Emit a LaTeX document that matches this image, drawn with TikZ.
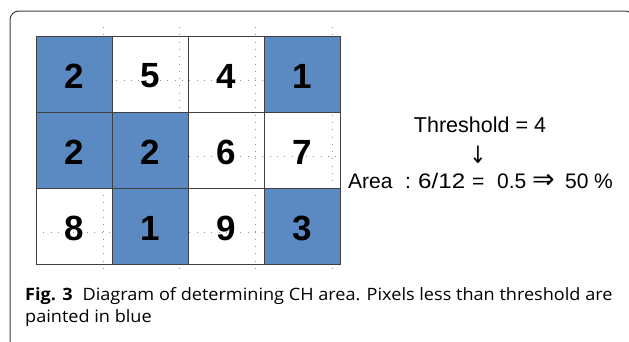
\documentclass[tikz,border=0pt]{standalone}
\usepackage{fontspec}
\setmainfont{Liberation Sans}
\newfontfamily\capfont{Open Sans}
\newfontfamily\symfont{DejaVu Sans}
\definecolor{cellblue}{HTML}{4F81BD}
\definecolor{framegray}{HTML}{404040}
\tikzset{
  cellbox/.style={draw=framegray, line width=0.9pt},
  gridnum/.style={inner sep=0pt, anchor=center, font=\fontsize{35}{40}\selectfont\bfseries},
  dotline/.style={draw=gray!85, line width=0.9pt, dash pattern=on 0.9pt off 6.4pt},
  rtext/.style={inner sep=0pt, anchor=base west, font=\fontsize{21}{25}\selectfont},
  captext/.style={inner sep=0pt, anchor=base west, xscale=1.065, font=\capfont\fontsize{17}{20}\selectfont},
}
\begin{document}
\begin{tikzpicture}[x=1pt, y=-1pt]
\useasboundingbox (0,0) rectangle (629,341);
\clip (0,0) rectangle (629,341);
\fill[white] (0,0) rectangle (629,341);
% frame
\draw[framegray, line width=1pt, rounded corners=9pt] (10,360) -- (10,11) -- (634,11) -- (634,360);
% dotted helper lines
\foreach \x in {103,179,255,332} \draw[dotline] (\x,27) -- (\x,273);
\foreach \y in {80,156,232} \draw[dotline] (36,\y) -- (340,\y);
% cells
\foreach \v/\b [count=\k from 0] in {2/1,5/0,4/0,1/1,2/1,2/1,6/0,7/0,8/0,1/1,9/0,3/1}{
  \pgfmathtruncatemacro{\c}{mod(\k,4)}
  \pgfmathtruncatemacro{\r}{div(\k,4)}
  \pgfmathsetmacro{\xa}{36+76*\c}
  \pgfmathsetmacro{\ya}{36+76*\r}
  \ifnum\b=1
    \fill[cellblue, opacity=0.93] (\xa,\ya) rectangle ++(76,76);
  \fi
  \draw[cellbox] (\xa,\ya) rectangle ++(76,76);
  \node[gridnum] (n\k) at (\xa+38,\ya+40) {\v};
}
% right text
\node[inner sep=0pt, anchor=base, font=\fontsize{21.5}{25}\selectfont] (thr) at (480,132) {Threshold = 4};
\node[inner sep=0pt, anchor=center, font=\symfont\fontsize{20}{24}\selectfont, yscale=1.2] (arr) at (478,155) {↓};
\node[rtext] (a1) at (348,188) {Area};
\node[rtext] (a2) at (405,188) {:};
\node[rtext, xscale=1.15] (a3) at (418,188) {6/12};
\node[rtext] (a4) at (472,188) {=};
\node[rtext] (a5) at (497,188) {0.5};
\node[inner sep=0pt, anchor=base, font=\symfont\fontsize{27}{30}\selectfont] (a6) at (543.5,188) {⇒};
\node[rtext] (a7) at (565,188) {50};
\node[rtext] (a8) at (594,188) {\%};
% caption
\node[captext] (cap1) at (25,300) {\textbf{Fig. 3}\hspace{0.55em}Diagram of determining CH area. Pixels less than threshold are};
\node[captext] (cap2) at (25,322) {painted in blue};
\end{tikzpicture}
\end{document}
